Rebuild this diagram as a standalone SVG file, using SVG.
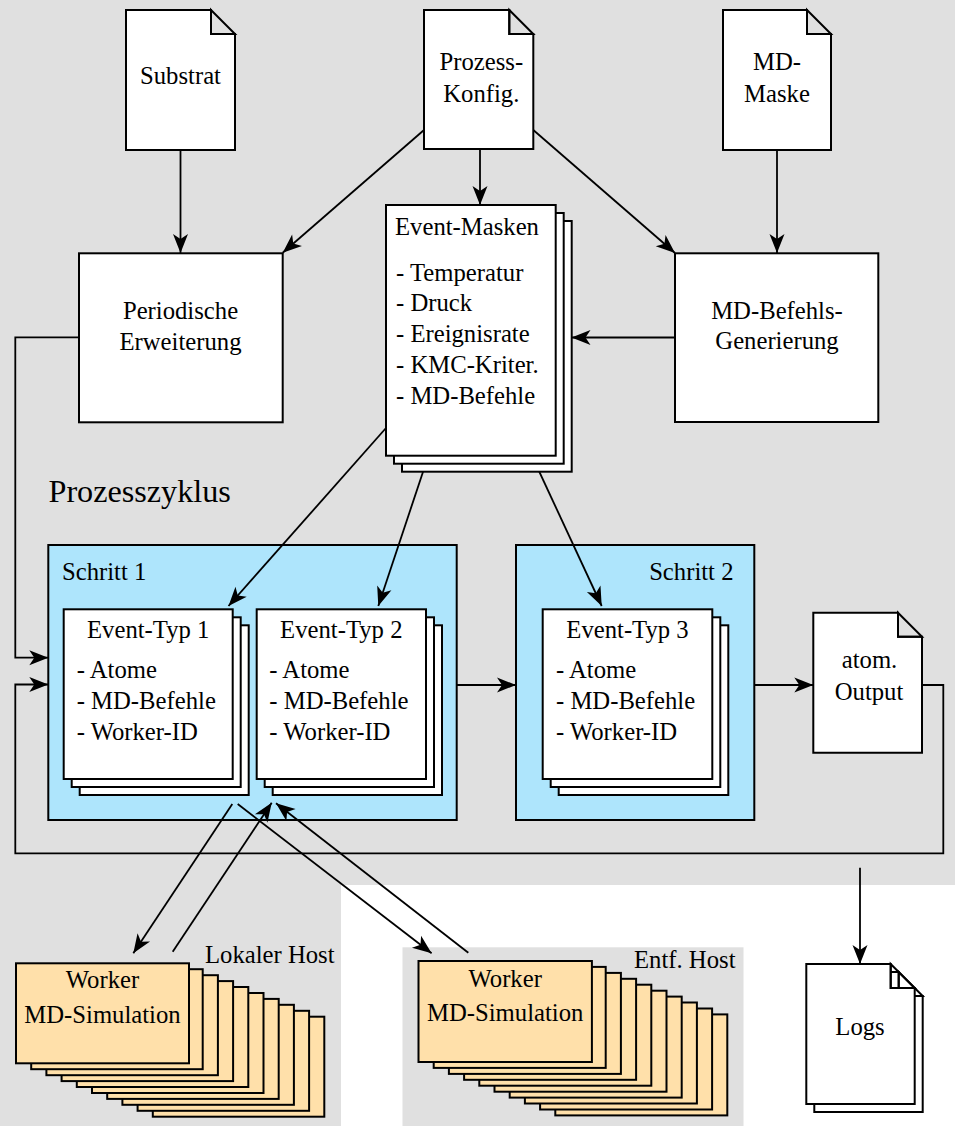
<svg xmlns="http://www.w3.org/2000/svg" width="955" height="1128" viewBox="0 0 955 1128">
<style>
text{font-family:'Liberation Serif','Times New Roman',Tinos,'Nimbus Roman','DejaVu Serif',serif;font-size:24.7px;fill:#000}
.c{text-anchor:middle}
.box{fill:#fff;stroke:#000;stroke-width:2}
.fold{fill:none;stroke:#000;stroke-width:2;stroke-linejoin:miter}
.step{fill:#aee5fc;stroke:#000;stroke-width:2}
.wk{fill:#ffe0aa;stroke:#000;stroke-width:2}
.ln{fill:none;stroke:#000;stroke-width:1.8}
.ar{marker-end:url(#ah)}
</style>
<defs>
<marker id="ah" viewBox="-21 -9 22 18" markerWidth="22" markerHeight="18" refX="0" refY="0" orient="auto" markerUnits="userSpaceOnUse">
<path d="M0,0 L-19,-7.5 L-14,0 L-19,7.5 Z" fill="#000"/>
</marker>
</defs>
<g id="background">
<path d="M0,0 H955 V885 H341 V1126 H0 Z" fill="#e0e0e0"/>
<rect x="402.5" y="947.3" width="341" height="178.7" fill="#e0e0e0"/>
<text x="48.5" y="502" style="font-size:32.2px">Prozesszyklus</text>
<text x="205" y="963">Lokaler Host</text>
<text x="634" y="968">Entf. Host</text>
</g>
<g id="schritt1">
<rect class="step" x="48.3" y="545" width="408.4" height="275"/>
<text x="62" y="580">Schritt 1</text>
</g>
<g id="schritt2">
<rect class="step" x="516" y="545" width="238.3" height="275"/>
<text x="733.5" y="580" text-anchor="end">Schritt 2</text>
</g>
<g id="connectors">
<path class="ln ar" d="M180.5,150 V253"/>
<path class="ln ar" d="M424,130 L282.7,252.7"/>
<path class="ln ar" d="M480,149 V205"/>
<path class="ln ar" d="M533.3,130 L675,253"/>
<path class="ln ar" d="M777,150 V253"/>
<path class="ln ar" d="M675,337.5 H571.5"/>
<path class="ln ar" d="M386,428 L228.5,606"/>
<path class="ln ar" d="M428.3,456 L378.3,606"/>
<path class="ln ar" d="M532,456 L601.7,606"/>
<path class="ln ar" d="M79,337.3 H15.3 V657.7 H48.3"/>
<path class="ln ar" d="M922,685 H943.3 V853.3 H15.3 V684.5 H48.3"/>
<path class="ln ar" d="M456.7,685 H516"/>
<path class="ln ar" d="M754.3,685 H813.3"/>
<path class="ln ar" d="M232.3,804 L133.3,953.3"/>
<path class="ln ar" d="M172.7,951.7 L271.7,802.7"/>
<path class="ln ar" d="M237.7,804 L431.6,953.3"/>
<path class="ln ar" d="M468.3,952.7 L276,803.3"/>
<path class="ln ar" d="M860,867.7 V964"/>
</g>
<g id="substrat">
<path class="box" d="M126,10 H211 V34 H235 V150 H126 Z"/>
<path class="fold" d="M211,10 L235,34 H211 Z"/>
<text class="c" x="180.5" y="84">Substrat</text>
</g>
<g id="prozess-konfig">
<path class="box" d="M424,10 H509.3 V34 H533.3 V149 H424 Z"/>
<path class="fold" d="M509.3,10 L533.3,34 H509.3 Z"/>
<text class="c" x="481.3" y="70">Prozess-</text>
<text class="c" x="481.3" y="101.7">Konfig.</text>
</g>
<g id="md-maske">
<path class="box" d="M723,10 H807 V34 H831 V150 H723 Z"/>
<path class="fold" d="M807,10 L831,34 H807 Z"/>
<text class="c" x="777" y="70">MD-</text>
<text class="c" x="777" y="101.7">Maske</text>
</g>
<g id="periodische-erweiterung">
<rect class="box" x="79" y="253.3" width="203.7" height="169"/>
<text class="c" x="180.5" y="319.3">Periodische</text>
<text class="c" x="180.5" y="350">Erweiterung</text>
</g>
<g id="md-befehls-generierung">
<rect class="box" x="675" y="253.3" width="203.3" height="168.7"/>
<text class="c" x="777" y="319.3">MD-Befehls-</text>
<text class="c" x="777" y="348.5">Generierung</text>
</g>
<g id="event-masken">
<rect class="box" x="402" y="221" width="169.7" height="250.7"/>
<rect class="box" x="394" y="213" width="169.7" height="250.7"/>
<rect class="box" x="386" y="205" width="169.7" height="250.7"/>
<text x="395" y="235">Event-Masken</text>
<text x="396" y="280.7">- Temperatur</text>
<text x="396" y="311">- Druck</text>
<text x="396" y="342">- Ereignisrate</text>
<text x="396" y="373">- KMC-Kriter.</text>
<text x="396" y="403.5">- MD-Befehle</text>
</g>
<g id="event-typ-1">
<rect class="box" x="79.7" y="625.3" width="169" height="169.7"/>
<rect class="box" x="71.7" y="617.3" width="169" height="169.7"/>
<rect class="box" x="63.7" y="609.3" width="169" height="169.7"/>
<text class="c" x="148.2" y="638.3">Event-Typ 1</text>
<text x="76.7" y="678">- Atome</text>
<text x="76.7" y="709">- MD-Befehle</text>
<text x="76.7" y="740">- Worker-ID</text>
</g>
<g id="event-typ-2">
<rect class="box" x="272.7" y="625.3" width="169.3" height="169.7"/>
<rect class="box" x="264.7" y="617.3" width="169.3" height="169.7"/>
<rect class="box" x="256.7" y="609.3" width="169.3" height="169.7"/>
<text class="c" x="341.3" y="638.3">Event-Typ 2</text>
<text x="269.3" y="678">- Atome</text>
<text x="269.3" y="709">- MD-Befehle</text>
<text x="269.3" y="740">- Worker-ID</text>
</g>
<g id="event-typ-3">
<rect class="box" x="558.7" y="625.3" width="169.6" height="169.7"/>
<rect class="box" x="550.7" y="617.3" width="169.6" height="169.7"/>
<rect class="box" x="542.7" y="609.3" width="169.6" height="169.7"/>
<text class="c" x="627.5" y="638.3">Event-Typ 3</text>
<text x="556" y="678">- Atome</text>
<text x="556" y="709">- MD-Befehle</text>
<text x="556" y="740">- Worker-ID</text>
</g>
<g id="atom-output">
<path class="box" d="M813.3,612.7 H898 V636.7 H922 V752.7 H813.3 Z"/>
<path class="fold" d="M898,612.7 L922,636.7 H898 Z"/>
<text class="c" x="869.5" y="668">atom.</text>
<text class="c" x="869" y="700">Output</text>
</g>
<g id="worker-lokal">
<rect class="wk" x="152.8" y="1016.7" width="171.5" height="100"/>
<rect class="wk" x="137.6" y="1010.8" width="171.5" height="100"/>
<rect class="wk" x="122.4" y="1004.8" width="171.5" height="100"/>
<rect class="wk" x="107.2" y="998.9" width="171.5" height="100"/>
<rect class="wk" x="92" y="993" width="171.5" height="100"/>
<rect class="wk" x="76.8" y="987" width="171.5" height="100"/>
<rect class="wk" x="61.6" y="981.1" width="171.5" height="100"/>
<rect class="wk" x="46.4" y="975.2" width="171.5" height="100"/>
<rect class="wk" x="31.2" y="969.2" width="171.5" height="100"/>
<rect class="wk" x="16" y="963.3" width="173" height="100"/>
<text class="c" x="102.5" y="988">Worker</text>
<text class="c" x="102.5" y="1022.7">MD-Simulation</text>
</g>
<g id="worker-entf">
<rect class="wk" x="555.3" y="1014.4" width="172" height="101"/>
<rect class="wk" x="540.1" y="1008.5" width="172" height="101"/>
<rect class="wk" x="524.9" y="1002.5" width="172" height="101"/>
<rect class="wk" x="509.7" y="996.6" width="172" height="101"/>
<rect class="wk" x="494.5" y="990.7" width="172" height="101"/>
<rect class="wk" x="479.3" y="984.7" width="172" height="101"/>
<rect class="wk" x="464.1" y="978.8" width="172" height="101"/>
<rect class="wk" x="448.9" y="972.9" width="172" height="101"/>
<rect class="wk" x="433.7" y="966.9" width="172" height="101"/>
<rect class="wk" x="418.5" y="961" width="173.4" height="101"/>
<text class="c" x="505.2" y="986.7">Worker</text>
<text class="c" x="505.2" y="1021">MD-Simulation</text>
</g>
<g id="logs">
<path class="box" d="M814.3,972 H898.7 V996 H922.7 V1112 H814.3 Z"/>
<path class="fold" d="M898.7,972 L922.7,996 H898.7 Z"/>
<path class="box" d="M806.3,964 H890.7 V988 H914.7 V1104 H806.3 Z"/>
<path class="fold" d="M890.7,964 L914.7,988 H890.7 Z"/>
<text class="c" x="860" y="1035">Logs</text>
</g>
</svg>
